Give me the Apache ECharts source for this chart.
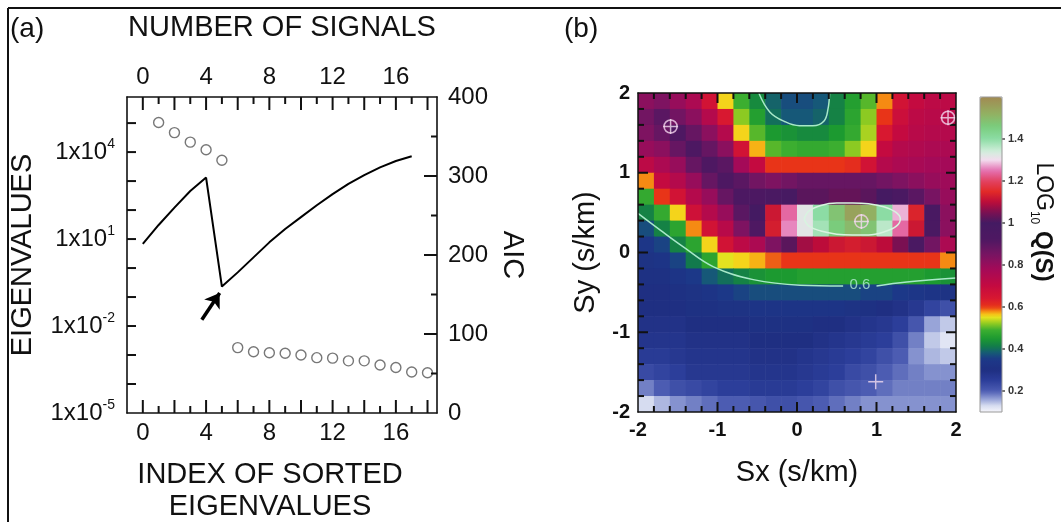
<!DOCTYPE html>
<html>
<head>
<meta charset="utf-8">
<script src="https://cdn.jsdelivr.net/npm/echarts@6/dist/echarts.min.js"></script>
<style>
  html, body { margin: 0; padding: 0; background: #fff; }
  #chart { width: 1061px; height: 522px; }
</style>
</head>
<body>
<div id="chart"></div>
<script>
const FONT = '"Liberation Sans", Arial, Helvetica, sans-serif';

// ---- panel (a) ----
const eigenIndex = [1, 2, 3, 4, 5, 6, 7, 8, 9, 10, 11, 12, 13, 14, 15, 16, 17, 18];
const eigenvalues = [1.05e5, 4.7e4, 2.2e4, 1.2e4, 5.2e3, 1.8e-3, 1.3e-3, 1.2e-3, 1.15e-3, 1.0e-3,
  8.1e-4, 7.8e-4, 6.3e-4, 6.3e-4, 4.5e-4, 3.7e-4, 2.6e-4, 2.45e-4];
const signalCount = [0, 1, 2, 3, 4, 5, 6, 7, 8, 9, 10, 11, 12, 13, 14, 15, 16, 17];
const aicValues = [214, 238, 260, 281, 298, 160, 178, 197, 216, 233, 248, 263, 277, 290, 301, 311, 319, 325];
const indexLabelTicks = [0, 4, 8, 12, 16];
const indexMajorTicks = [0, 2, 4, 6, 8, 10, 12, 14, 16, 18];
const indexMinorTicks = [1, 3, 5, 7, 9, 11, 13, 15, 17];
const eigenLabelExps = [-5, -2, 1, 4];
const eigenDecadeTicks = [-4, -3, -2, -1, 0, 1, 2, 3, 4, 5];
const aicMajorTicks = [100, 200, 300];
const aicMinorTicks = [50, 150, 250, 350];

// ---- panel (b): LOG10 Q(S) read on a 0.2 s/km grid ----
const sxCenters = [-1.9, -1.7, -1.5, -1.3, -1.1, -0.9, -0.7, -0.5, -0.3, -0.1, 0.1, 0.3, 0.5, 0.7, 0.9, 1.1, 1.3, 1.5, 1.7, 1.9];
const syCenters = [1.9, 1.7, 1.5, 1.3, 1.1, 0.9, 0.7, 0.5, 0.3, 0.1, -0.1, -0.3, -0.5, -0.7, -0.9, -1.1, -1.3, -1.5, -1.7, -1.9];
const logQRows = [
  [0.82, 0.84, 0.80, 0.76, 0.66, 0.56, 0.49, 0.43, 0.39, 0.37, 0.37, 0.38, 0.42, 0.46, 0.50, 0.58, 0.66, 0.70, 0.72, 0.72],
  [0.86, 0.90, 0.86, 0.82, 0.74, 0.64, 0.52, 0.46, 0.40, 0.38, 0.38, 0.39, 0.42, 0.47, 0.52, 0.60, 0.68, 0.72, 0.73, 0.73],
  [0.84, 0.88, 0.92, 0.88, 0.82, 0.74, 0.56, 0.50, 0.45, 0.44, 0.43, 0.43, 0.45, 0.48, 0.53, 0.64, 0.70, 0.73, 0.74, 0.74],
  [0.80, 0.82, 0.88, 0.93, 0.88, 0.82, 0.66, 0.57, 0.50, 0.49, 0.48, 0.48, 0.49, 0.52, 0.56, 0.70, 0.74, 0.75, 0.76, 0.76],
  [0.72, 0.76, 0.80, 0.88, 0.92, 0.90, 0.78, 0.70, 0.60, 0.60, 0.60, 0.60, 0.60, 0.61, 0.66, 0.74, 0.76, 0.77, 0.78, 0.78],
  [0.58, 0.70, 0.74, 0.80, 0.88, 0.93, 0.90, 0.86, 0.84, 0.86, 0.88, 0.88, 0.88, 0.88, 0.88, 0.86, 0.84, 0.82, 0.80, 0.79],
  [0.48, 0.60, 0.66, 0.74, 0.80, 0.88, 0.94, 0.94, 0.95, 0.98, 1.02, 1.02, 1.03, 1.03, 1.02, 0.99, 0.95, 0.90, 0.85, 0.80],
  [0.42, 0.48, 0.56, 0.67, 0.74, 0.80, 0.90, 1.00, 1.12, 1.24, 1.32, 1.40, 1.48, 1.55, 1.52, 1.40, 1.28, 1.14, 0.96, 0.82],
  [0.37, 0.42, 0.47, 0.58, 0.66, 0.73, 0.84, 0.92, 1.13, 1.26, 1.32, 1.38, 1.46, 1.50, 1.48, 1.36, 1.24, 1.12, 0.95, 0.82],
  [0.34, 0.36, 0.42, 0.47, 0.56, 0.66, 0.72, 0.76, 0.84, 1.02, 1.08, 1.10, 1.12, 1.13, 1.12, 1.10, 1.05, 0.95, 0.86, 0.76],
  [0.32, 0.33, 0.36, 0.41, 0.47, 0.55, 0.56, 0.57, 0.59, 0.60, 0.60, 0.60, 0.60, 0.60, 0.60, 0.60, 0.60, 0.60, 0.60, 0.58],
  [0.31, 0.31, 0.33, 0.35, 0.38, 0.40, 0.42, 0.44, 0.45, 0.45, 0.46, 0.46, 0.46, 0.46, 0.46, 0.46, 0.46, 0.46, 0.45, 0.44],
  [0.30, 0.30, 0.31, 0.32, 0.33, 0.35, 0.36, 0.37, 0.37, 0.37, 0.37, 0.37, 0.37, 0.37, 0.36, 0.36, 0.35, 0.34, 0.33, 0.32],
  [0.30, 0.30, 0.30, 0.31, 0.31, 0.32, 0.32, 0.33, 0.33, 0.33, 0.33, 0.33, 0.33, 0.32, 0.31, 0.30, 0.29, 0.27, 0.24, 0.22],
  [0.29, 0.29, 0.29, 0.30, 0.30, 0.30, 0.30, 0.31, 0.31, 0.31, 0.31, 0.30, 0.30, 0.29, 0.28, 0.27, 0.25, 0.21, 0.16, 0.14],
  [0.28, 0.28, 0.28, 0.29, 0.29, 0.29, 0.29, 0.30, 0.30, 0.30, 0.30, 0.29, 0.28, 0.27, 0.26, 0.25, 0.22, 0.18, 0.14, 0.12],
  [0.26, 0.26, 0.27, 0.28, 0.28, 0.28, 0.28, 0.29, 0.29, 0.29, 0.28, 0.27, 0.26, 0.25, 0.24, 0.22, 0.20, 0.17, 0.15, 0.14],
  [0.23, 0.24, 0.25, 0.27, 0.27, 0.27, 0.27, 0.28, 0.28, 0.28, 0.27, 0.26, 0.25, 0.23, 0.22, 0.20, 0.19, 0.18, 0.17, 0.17],
  [0.18, 0.20, 0.22, 0.23, 0.24, 0.25, 0.25, 0.26, 0.26, 0.26, 0.25, 0.24, 0.22, 0.21, 0.20, 0.19, 0.18, 0.18, 0.18, 0.18],
  [0.13, 0.15, 0.17, 0.18, 0.19, 0.20, 0.20, 0.21, 0.22, 0.22, 0.21, 0.20, 0.19, 0.18, 0.17, 0.17, 0.17, 0.17, 0.17, 0.17]
];
const contour06Left = [[-2, 0.49], [-1.72, 0.28], [-1.43, 0.07], [-1.05, -0.18], [-0.55, -0.34], [0.04, -0.41], [0.58, -0.42]];
const contour06Right = [[1.0, -0.42], [1.38, -0.37], [2, -0.32]];
const contourTop = [[-0.48, 2], [-0.34, 1.76], [-0.15, 1.64], [0.03, 1.59], [0.2, 1.59], [0.34, 1.65], [0.39, 1.8], [0.41, 2]];
const contourPeak = [[0.09, 0.42], [0.15, 0.52], [0.3, 0.59], [0.5, 0.62], [0.7, 0.62], [0.9, 0.61], [1.1, 0.57],
  [1.25, 0.5], [1.3, 0.42], [1.25, 0.33], [1.1, 0.26], [0.9, 0.22], [0.7, 0.22], [0.5, 0.23], [0.3, 0.27], [0.15, 0.33], [0.09, 0.42]];
const contourLabelAt = [0.79, -0.41];
const contourLabelText = '0.6';
const circledMarks = [[-1.59, 1.58], [0.81, 0.39], [1.9, 1.69]];
const crossMarks = [[0.99, -1.62]];
const slownessMajorTicks = [-1, 0, 1];
const slownessMinorTicks = [-1.8, -1.6, -1.4, -1.2, -0.8, -0.6, -0.4, -0.2, 0.2, 0.4, 0.6, 0.8, 1.2, 1.4, 1.6, 1.8];
const colorbarTicks = [0.2, 0.4, 0.6, 0.8, 1, 1.2, 1.4];

// colour map of the colour bar (value, colour)
const cmapStops = [
  [0.10, '#f6f6fb'], [0.13, '#d6dcf0'], [0.16, '#98a4d8'], [0.20, '#4c5cb2'], [0.25, '#2c3e9a'],
  [0.30, '#1f2f82'], [0.35, '#1c3888'], [0.38, '#165878'], [0.41, '#127a4c'], [0.45, '#1c9a30'],
  [0.49, '#3cae30'], [0.52, '#8cca22'], [0.555, '#f2e61e'], [0.575, '#f8a012'], [0.60, '#e83418'],
  [0.64, '#d81830'], [0.70, '#c40a40'], [0.78, '#a40a58'], [0.85, '#781462'], [0.92, '#4e1862'],
  [1.00, '#441a62'], [1.05, '#7a1052'], [1.10, '#bc0c3a'], [1.15, '#e22a28'], [1.20, '#e24262'],
  [1.25, '#e472b2'], [1.30, '#f2dcee'], [1.34, '#d2eedc'], [1.40, '#8cdca4'], [1.46, '#7acc7c'],
  [1.52, '#92b062'], [1.60, '#a28a52']
];
const QMIN = 0.1, QMAX = 1.6;

// layout and axis extents
const GRID_A = { left: 127, top: 97, width: 310, height: 316 };
const GRID_B = { left: 638, top: 93, width: 318, height: 319 };
const A_XMIN = -1, A_XMAX = 18.6, A_YMIN = -5, A_YMAX = 5.9, AIC_MIN = 0, AIC_MAX = 400;
const S_MIN = -2, S_MAX = 2;

function hexToRgb(h) {
  return [parseInt(h.slice(1, 3), 16), parseInt(h.slice(3, 5), 16), parseInt(h.slice(5, 7), 16)];
}
function cmapColors(n) {
  const out = [];
  for (let i = 0; i < n; i++) {
    const v = QMIN + (QMAX - QMIN) * i / (n - 1);
    let k = 0;
    while (k < cmapStops.length - 2 && v > cmapStops[k + 1][0]) k++;
    const [v0, c0] = cmapStops[k], [v1, c1] = cmapStops[k + 1];
    const t = Math.max(0, Math.min(1, (v - v0) / (v1 - v0)));
    const a = hexToRgb(c0), b = hexToRgb(c1);
    out.push('rgb(' + a.map((x, j) => Math.round(x + (b[j] - x) * t)).join(',') + ')');
  }
  return out;
}

const heatData = [];
syCenters.forEach((sy, r) => {
  sxCenters.forEach((sx, c) => heatData.push([sx, sy, logQRows[r][c]]));
});
const cellHalfX = (sxCenters[1] - sxCenters[0]) / 2;
const cellHalfY = (syCenters[0] - syCenters[1]) / 2;

const ink = '#111';
const lineInk = { color: ink, width: 1.6 };

function plainAxis(extra) {
  return Object.assign({
    type: 'value', axisLine: { show: true, onZero: false, lineStyle: lineInk },
    axisTick: { show: false }, minorTick: { show: false }, splitLine: { show: false }
  }, extra);
}

// tick marks: one short two-point line per tick, in data units of its axes
// dir = +1 / -1 along the data axis that the tick runs across
function tickLines(xi, yi, dim, values, fixed, dir, lenPx, unitsPerPx) {
  const d = dir * lenPx * unitsPerPx;
  return values.map(v => ({
    type: 'line', xAxisIndex: xi, yAxisIndex: yi, silent: true, z: 4,
    symbol: 'none', showSymbol: false,
    lineStyle: { color: ink, width: 2 },
    data: dim === 'x' ? [[v, fixed], [v, fixed + d]] : [[fixed, v], [fixed + d, v]]
  }));
}
const aXPerPx = (A_XMAX - A_XMIN) / GRID_A.width;
const aYPerPx = (A_YMAX - A_YMIN) / GRID_A.height;
const aicPerPx = (AIC_MAX - AIC_MIN) / GRID_A.height;
const bXPerPx = (S_MAX - S_MIN) / GRID_B.width;
const bYPerPx = (S_MAX - S_MIN) / GRID_B.height;

const tickSeriesList = [].concat(
  // panel (a): bottom, top, left, right (all inward)
  tickLines(0, 0, 'x', indexMinorTicks, A_YMIN, 1, 7, aYPerPx),
  tickLines(0, 0, 'x', indexMajorTicks, A_YMIN, 1, 13, aYPerPx),
  tickLines(0, 0, 'x', indexMinorTicks, A_YMAX, -1, 7, aYPerPx),
  tickLines(0, 0, 'x', indexMajorTicks, A_YMAX, -1, 13, aYPerPx),
  tickLines(0, 0, 'y', eigenDecadeTicks, A_XMIN, 1, 9, aXPerPx),
  tickLines(0, 1, 'y', aicMajorTicks, A_XMAX, -1, 13, aXPerPx),
  tickLines(0, 1, 'y', aicMinorTicks, A_XMAX, -1, 6, aXPerPx),
  // panel (b)
  tickLines(2, 2, 'x', slownessMajorTicks, S_MIN, 1, 10, bYPerPx),
  tickLines(2, 2, 'x', slownessMinorTicks, S_MIN, 1, 6, bYPerPx),
  tickLines(2, 2, 'x', slownessMajorTicks, S_MAX, -1, 10, bYPerPx),
  tickLines(2, 2, 'x', slownessMinorTicks, S_MAX, -1, 6, bYPerPx),
  tickLines(2, 2, 'y', slownessMajorTicks, S_MIN, 1, 10, bXPerPx),
  tickLines(2, 2, 'y', slownessMinorTicks, S_MIN, 1, 6, bXPerPx),
  tickLines(2, 2, 'y', slownessMajorTicks, S_MAX, -1, 10, bXPerPx),
  tickLines(2, 2, 'y', slownessMinorTicks, S_MAX, -1, 6, bXPerPx)
);

const chart = echarts.init(document.getElementById('chart'), null, { renderer: 'canvas' });

const bLabel = { fontSize: 20, fontWeight: 'bold', margin: 8, color: ink, fontFamily: FONT };
const nameStyle = { fontSize: 29, color: ink, fontFamily: FONT };

const option = {
  animation: false,
  backgroundColor: '#fff',
  textStyle: { fontFamily: FONT, color: ink },
  grid: [
    Object.assign({ outerBoundsMode: 'none' }, GRID_A),
    Object.assign({ outerBoundsMode: 'none' }, GRID_B),
    { left: 980, top: 97, width: 22, height: 315, outerBoundsMode: 'none' }
  ],
  xAxis: [
    plainAxis({
      gridIndex: 0, position: 'bottom', min: A_XMIN, max: A_XMAX, interval: 1,
      axisLabel: { customValues: indexLabelTicks, fontSize: 24, margin: 8, color: ink, fontFamily: FONT },
      name: 'INDEX OF SORTED\nEIGENVALUES', nameLocation: 'middle', nameGap: 46,
      nameTextStyle: { fontSize: 29, lineHeight: 32, color: ink, fontFamily: FONT, padding: [0, 24, 0, 0] }
    }),
    plainAxis({
      gridIndex: 0, position: 'top', min: A_XMIN, max: A_XMAX, interval: 1,
      axisLabel: { customValues: indexLabelTicks, fontSize: 24, margin: 8, color: ink, fontFamily: FONT },
      name: 'NUMBER OF SIGNALS', nameLocation: 'middle', nameGap: 55, nameTextStyle: nameStyle
    }),
    plainAxis({
      gridIndex: 1, position: 'bottom', min: S_MIN, max: S_MAX, interval: 1, z: 5,
      axisLine: { show: true, onZero: false, lineStyle: { color: ink, width: 1.5 } },
      axisLabel: bLabel,
      name: 'Sx (s/km)', nameLocation: 'middle', nameGap: 46, nameTextStyle: nameStyle
    }),
    plainAxis({
      gridIndex: 1, position: 'top', min: S_MIN, max: S_MAX, interval: 1, z: 5,
      axisLine: { show: true, onZero: false, lineStyle: { color: ink, width: 1.5 } },
      axisLabel: { show: false }
    }),
    { gridIndex: 2, type: 'value', min: 0, max: 1, show: false }
  ],
  yAxis: [
    plainAxis({
      gridIndex: 0, position: 'left', min: A_YMIN, max: A_YMAX, interval: 1,
      axisLabel: {
        fontSize: 24, margin: 12, color: ink, fontFamily: FONT, lineHeight: 30,
        formatter: function (v) {
          const e = Math.round(v);
          if (Math.abs(v - e) > 1e-6 || eigenLabelExps.indexOf(e) < 0) return '';
          return '1x10{sup|' + e + '}';
        },
        rich: { sup: { fontSize: 14, verticalAlign: 'top', color: ink, fontFamily: FONT } }
      },
      name: 'EIGENVALUES', nameLocation: 'middle', nameGap: 90, nameTextStyle: nameStyle
    }),
    plainAxis({
      gridIndex: 0, position: 'right', min: AIC_MIN, max: AIC_MAX, interval: 100,
      axisLabel: { fontSize: 24, margin: 11, color: ink, fontFamily: FONT },
      name: 'AIC', nameLocation: 'middle', nameRotate: -90, nameGap: 60, nameTextStyle: nameStyle
    }),
    plainAxis({
      gridIndex: 1, position: 'left', min: S_MIN, max: S_MAX, interval: 1, z: 5,
      axisLine: { show: true, onZero: false, lineStyle: { color: ink, width: 1.5 } },
      axisLabel: bLabel,
      name: 'Sy (s/km)', nameLocation: 'middle', nameGap: 38, nameTextStyle: nameStyle
    }),
    plainAxis({
      gridIndex: 1, position: 'right', min: S_MIN, max: S_MAX, interval: 1, z: 5,
      axisLine: { show: true, onZero: false, lineStyle: { color: ink, width: 1.5 } },
      axisLabel: { show: false }
    }),
    plainAxis({
      gridIndex: 2, position: 'right', min: QMIN, max: QMAX,
      axisLine: { show: false, onZero: false },
      axisTick: { show: true, inside: false, length: 3, customValues: colorbarTicks, lineStyle: { color: '#777', width: 2 } },
      axisLabel: { show: true, customValues: colorbarTicks, fontSize: 11, fontWeight: 'bold', margin: 6, color: '#333', fontFamily: FONT }
    })
  ],
  visualMap: {
    type: 'continuous', seriesIndex: 2, dimension: 2, min: QMIN, max: QMAX,
    calculable: false, hoverLink: false, realtime: false, text: null, showLabel: false,
    left: 980, top: 97, itemWidth: 22, itemHeight: 315, padding: 0,
    inRange: { color: cmapColors(301) }
  },
  series: [
    {
      type: 'scatter', xAxisIndex: 0, yAxisIndex: 0, symbol: 'circle', symbolSize: 10, z: 3,
      itemStyle: { color: '#fff', borderColor: '#555', borderWidth: 1.4 },
      data: eigenIndex.map((n, i) => [n, Math.log10(eigenvalues[i])])
    },
    {
      type: 'line', xAxisIndex: 0, yAxisIndex: 1, showSymbol: false, z: 3,
      lineStyle: { color: '#000', width: 2 },
      data: signalCount.map((n, i) => [n, aicValues[i]]),
      markLine: {
        silent: true, symbol: ['none', 'arrow'], symbolSize: 14,
        lineStyle: { color: '#000', width: 3.5, type: 'solid' },
        label: { show: false },
        data: [[{ coord: [3.73, 118] }, { coord: [4.86, 152] }]]
      }
    },
    {
      type: 'custom', xAxisIndex: 2, yAxisIndex: 2, clip: true, z: 2,
      encode: { x: 0, y: 1 },
      renderItem: function (params, api) {
        const x = api.value(0), y = api.value(1);
        const p0 = api.coord([x - cellHalfX, y + cellHalfY]);
        const p1 = api.coord([x + cellHalfX, y - cellHalfY]);
        return {
          type: 'rect',
          shape: { x: p0[0], y: p0[1], width: p1[0] - p0[0] + 0.6, height: p1[1] - p0[1] + 0.6 },
          style: { fill: api.visual('color') }
        };
      },
      data: heatData
    },
    {
      type: 'line', xAxisIndex: 2, yAxisIndex: 2, showSymbol: false, smooth: 0.4, z: 4, silent: true,
      lineStyle: { color: '#a8e8c8', width: 1.5 }, data: contour06Left
    },
    {
      type: 'line', xAxisIndex: 2, yAxisIndex: 2, showSymbol: false, smooth: 0.4, z: 4, silent: true,
      lineStyle: { color: '#a8e8c8', width: 1.5 }, data: contour06Right
    },
    {
      type: 'line', xAxisIndex: 2, yAxisIndex: 2, showSymbol: false, smooth: 0.4, z: 4, silent: true,
      lineStyle: { color: '#a8e8c8', width: 1.5 }, data: contourTop
    },
    {
      type: 'line', xAxisIndex: 2, yAxisIndex: 2, showSymbol: false, smooth: 0.4, z: 4, silent: true,
      lineStyle: { color: '#d8f4e0', width: 1.5 }, data: contourPeak
    },
    {
      type: 'scatter', xAxisIndex: 2, yAxisIndex: 2, symbolSize: 0, z: 4, silent: true,
      label: { show: true, position: 'inside', formatter: contourLabelText, color: '#b4ecd4', fontSize: 15, fontFamily: FONT },
      data: [contourLabelAt]
    },
    {
      type: 'scatter', xAxisIndex: 2, yAxisIndex: 2, symbol: 'circle', symbolSize: 13, z: 4, silent: true,
      itemStyle: { color: 'rgba(0,0,0,0)', borderColor: '#f2d2ec', borderWidth: 1.6 },
      data: circledMarks
    },
    {
      type: 'scatter', xAxisIndex: 2, yAxisIndex: 2, z: 4, silent: true,
      symbol: 'path://M9,0H11V9H20V11H11V20H9V11H0V9H9Z', symbolSize: 15,
      itemStyle: { color: '#f2dcf0' },
      data: circledMarks.concat(crossMarks)
    }
  ].concat(tickSeriesList),
  graphic: [
    { type: 'line', shape: { x1: 8, y1: 8, x2: 1061, y2: 8 }, style: { stroke: '#111', lineWidth: 2 }, silent: true },
    { type: 'line', shape: { x1: 8, y1: 8, x2: 8, y2: 522 }, style: { stroke: '#111', lineWidth: 2 }, silent: true },
    { type: 'text', x: 10, y: 29, silent: true,
      style: { text: '(a)', fontSize: 28, fontFamily: FONT, fill: ink, verticalAlign: 'middle', align: 'left' } },
    { type: 'text', x: 564, y: 29, silent: true,
      style: { text: '(b)', fontSize: 28, fontFamily: FONT, fill: ink, verticalAlign: 'middle', align: 'left' } },
    { type: 'rect', shape: { x: 980, y: 97, width: 22, height: 315 }, z: 100, silent: true,
      style: { fill: 'none', stroke: '#999', lineWidth: 1 } },
    { type: 'text', x: 1043, y: 222, rotation: -Math.PI / 2, silent: true,
      style: {
        text: '{b|LOG}{s|10}{q| Q(S)}', align: 'center', verticalAlign: 'middle', fill: ink,
        rich: {
          b: { fontSize: 23, fontFamily: FONT, lineHeight: 30, fill: ink },
          s: { fontSize: 12, fontFamily: FONT, verticalAlign: 'bottom', fill: ink },
          q: { fontSize: 24, fontFamily: FONT, fontWeight: 'bold', lineHeight: 30, fill: ink }
        }
      } }
  ]
};

chart.setOption(option);
</script>
</body>
</html>
